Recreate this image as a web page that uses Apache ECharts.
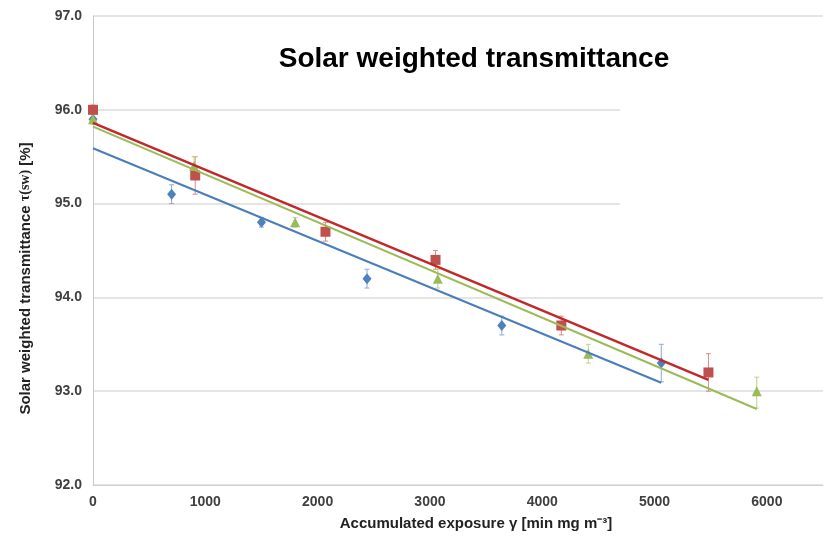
<!DOCTYPE html>
<html>
<head>
<meta charset="utf-8">
<script src="https://cdn.jsdelivr.net/npm/echarts@6/dist/echarts.min.js"></script>
<style>html,body{margin:0;padding:0;background:#fff}#c{width:827px;height:536px}</style>
</head>
<body>
<div id="c"></div>
<script>
// ---- data ----
var xTicks = [0, 1000, 2000, 3000, 4000, 5000, 6000];
var yTicks = [92.0, 93.0, 94.0, 95.0, 96.0, 97.0];

var blueX = [0, 700, 1500, 2440, 3640, 5060];
var blueY = [95.9, 95.1, 94.8, 94.2, 93.7, 93.3];
var blueLow  = [95.85, 95.0, 94.75, 94.1, 93.6, 93.1];
var blueHigh = [95.95, 95.2, 94.85, 94.3, 93.8, 93.5];

var redX = [0, 910, 2070, 3050, 4170, 5480];
var redY = [96.0, 95.3, 94.7, 94.4, 93.7, 93.2];
var redLow  = [95.95, 95.1, 94.6, 94.3, 93.6, 93.0];
var redHigh = [96.05, 95.5, 94.8, 94.5, 93.8, 93.4];

var greenX = [0, 900, 1800, 3070, 4410, 5910];
var greenY = [95.9, 95.4, 94.8, 94.2, 93.4, 93.0];
var greenLow  = [95.85, 95.3, 94.75, 94.1, 93.3, 92.82];
var greenHigh = [95.95, 95.5, 94.85, 94.3, 93.5, 93.15];

// linear trend lines: [x, y] endpoints
var blueTrend  = [[0, 95.59], [5060, 93.09]];
var redTrend   = [[0, 95.86], [5480, 93.12]];
var greenTrend = [[0, 95.82], [5910, 92.81]];

function pts(xs, ys) { return xs.map(function (x, i) { return [x, ys[i]]; }); }
function errs(xs, lo, hi) { return xs.map(function (x, i) { return [x, lo[i], hi[i]]; }); }

function errSeries(data, color) {
  return {
    type: 'custom',
    z: 3,
    silent: true,
    data: data,
    encode: { x: 0, y: [1, 2] },
    renderItem: function (params, api) {
      var x = api.value(0);
      var lo = api.coord([x, api.value(1)]);
      var hi = api.coord([x, api.value(2)]);
      var w = 2.5;
      var st = { stroke: color, lineWidth: 1 };
      return {
        type: 'group',
        children: [
          { type: 'line', shape: { x1: lo[0], y1: lo[1], x2: hi[0], y2: hi[1] }, style: st },
          { type: 'line', shape: { x1: hi[0] - w, y1: hi[1], x2: hi[0] + w, y2: hi[1] }, style: st },
          { type: 'line', shape: { x1: lo[0] - w, y1: lo[1], x2: lo[0] + w, y2: lo[1] }, style: st }
        ]
      };
    }
  };
}

var chart = echarts.init(document.getElementById('c'), null, { renderer: 'canvas' });
var FONT = 'Liberation Sans, Arial, sans-serif';
var labelFont = { fontFamily: FONT, fontWeight: 'bold', fontSize: 14, color: '#404040' };

chart.setOption({
  animation: false,
  backgroundColor: '#fff',
  title: {
    text: 'Solar weighted transmittance',
    left: 469, top: 40, textAlign: 'center',
    textStyle: { fontFamily: FONT, fontWeight: 'bold', fontSize: 28, color: '#000' }
  },
  grid: { left: 93, right: 4, top: 16, bottom: 50, containLabel: false },
  graphic: {
    elements: [{
      type: 'rect', z: 1, silent: true,
      shape: { x: 620, y: 95, width: 207, height: 125 },
      style: { fill: '#fff' }
    }]
  },
  xAxis: {
    type: 'value', min: xTicks[0], max: 6500, interval: 1000,
    name: 'Accumulated exposure γ [min mg m⁻³]',
    nameLocation: 'middle', nameGap: 31,
    nameTextStyle: { fontFamily: FONT, fontWeight: 'bold', fontSize: 15, color: '#222', padding: [0, 0, 0, 36] },
    axisLine: { show: true, lineStyle: { color: '#d0d0d0', width: 1 } },
    axisTick: { show: false },
    splitLine: { show: false },
    axisLabel: Object.assign({ margin: 10, showMaxLabel: false, formatter: function (v) { return xTicks.indexOf(v) >= 0 ? String(v) : ''; } }, labelFont)
  },
  yAxis: {
    type: 'value', min: yTicks[0], max: yTicks[yTicks.length - 1], interval: 1,
    name: '{a|Solar weighted transmittance }{b|τ(sw)}{a| [%]}',
    nameLocation: 'middle', nameGap: 60, nameRotate: 90,
    nameTextStyle: {
      padding: [0, 56, 0, 0],
      rich: {
        a: { fontFamily: FONT, fontWeight: 'bold', fontSize: 15, color: '#222' },
        b: { fontFamily: 'Liberation Serif, Times New Roman, serif', fontWeight: 'bold', fontSize: 14, color: '#222' }
      }
    },
    axisLine: { show: true, lineStyle: { color: '#c8c8c8', width: 1 } },
    axisTick: { show: false },
    splitLine: { show: true, lineStyle: { color: '#dcdcdc', width: 1.5 } },
    axisLabel: Object.assign({ margin: 11, formatter: function (v) { return v.toFixed(1); } }, labelFont)
  },
  series: [
    errSeries(errs(blueX, blueLow, blueHigh), '#8aa9d6'),
    errSeries(errs(redX, redLow, redHigh), '#d98c8b'),
    errSeries(errs(greenX, greenLow, greenHigh), '#bcd08c'),
    { type: 'scatter', data: pts(blueX, blueY), symbol: 'diamond', symbolSize: [9, 11], z: 5, itemStyle: { color: '#4f81bd', opacity: 1 } },
    { type: 'scatter', data: pts(redX, redY), symbol: 'rect', symbolSize: 10, z: 6, itemStyle: { color: '#c0504d', opacity: 1 } },
    { type: 'scatter', data: pts(greenX, greenY), symbol: 'triangle', symbolSize: [10, 10], z: 7, itemStyle: { color: '#9bbb59', opacity: 1 } },
    { type: 'line', data: blueTrend, symbol: 'none', z: 8, lineStyle: { color: '#4a7ebb', width: 2 } },
    { type: 'line', data: greenTrend, symbol: 'none', z: 8, lineStyle: { color: '#9bbb59', width: 2 } },
    { type: 'line', data: redTrend, symbol: 'none', z: 9, lineStyle: { color: '#c0282b', width: 2.5 } }
  ]
});
</script>
</body>
</html>
